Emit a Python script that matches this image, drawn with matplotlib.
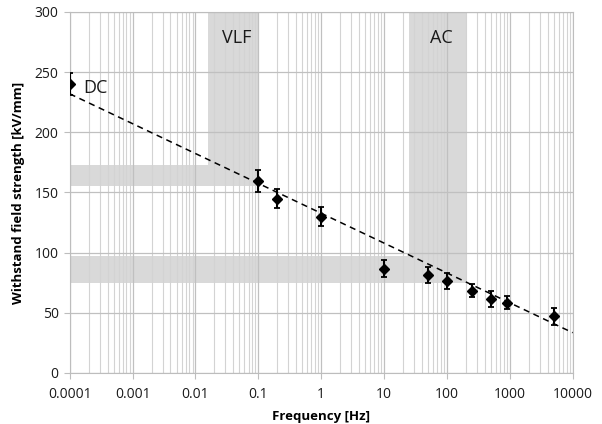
import matplotlib.pyplot as plt
import numpy as np

plt.rcParams["font.family"] = ["Open Sans", "DejaVu Sans"]

# ── data ──────────────────────────────────────────────────────────────────────
freq     = [0.0001, 0.1, 0.2, 1, 10, 50, 100, 250, 500, 900, 5000]
strength = [240, 159.5, 145, 130, 86.5, 81.5, 76.5, 68.5, 61.5, 58.5, 47]
err      = [9, 9.5, 8, 8, 7, 6.5, 6.5, 5.5, 6.5, 5.5, 7]

fit_x = [0.0001, 10000]
fit_y = [232, 33.5]

# shaded regions: (x0, x1, y0, y1)
vlf_band   = (0.016, 0.1, 155, 300)
vlf_level  = (0.0001, 0.1, 155, 173)
ac_band    = (25, 200, 75, 300)
ac_level   = (0.0001, 200, 75, 97)

labels = [("DC", 0.000165, 237), ("VLF", 0.045, 278), ("AC", 82, 278)]

# ── plot ──────────────────────────────────────────────────────────────────────
fig = plt.figure(figsize=(6.02, 4.24), dpi=100)
ax = fig.add_axes([0.1158, 0.1203, 0.8355, 0.8514])

BAND = "#d9d9d9"
for x0, x1, y0, y1 in (vlf_band, vlf_level, ac_band, ac_level):
    ax.fill_between([x0, x1], y0, y1, color=BAND, lw=0, zorder=0.2)

ax.plot(fit_x, fit_y, ls=(0, (4, 3)), color="black", lw=1.1, zorder=3)
ax.errorbar(freq, strength, yerr=err, fmt="D", color="black", ms=5.5,
            elinewidth=1.5, capsize=2.2, capthick=1.3, zorder=4)

for txt, x, y in labels:
    ax.text(x, y, txt, fontsize=13, va="center", ha="left" if txt == "DC" else "center",
            color="#1a1a1a")

ax.set_xscale("log")
ax.set_xlim(1e-4, 1e4)
ax.set_ylim(0, 300)
ax.set_yticks(np.arange(0, 301, 50))
ticks = [1e-4, 1e-3, 1e-2, 0.1, 1, 10, 100, 1000, 10000]
ax.set_xticks(ticks)
ax.set_xticklabels(["0.0001", "0.001", "0.01", "0.1", "1", "10", "100", "1000", "10000"])

ax.grid(True, which="major", color="#c0c0c0", lw=0.9, zorder=0.5)
ax.grid(True, which="minor", axis="x", color="#d3d3d3", lw=0.8, zorder=0.5)
ax.set_axisbelow(True)

for s in ax.spines.values():
    s.set_color("#bdbdbd")
ax.tick_params(which="major", length=4, color="#bdbdbd", labelsize=10,
               labelcolor="#1a1a1a")
ax.tick_params(axis="x", which="major", pad=6)
ax.tick_params(axis="y", which="major", pad=4)
ax.tick_params(which="minor", length=0)

ax.set_xlabel("Frequency [Hz]", fontsize=9.5, fontweight="bold", labelpad=6)
ax.set_ylabel("Withstand field strength [kV/mm]", fontsize=9.5, fontweight="bold",
              labelpad=7)

fig.savefig("out.png", dpi=100)
